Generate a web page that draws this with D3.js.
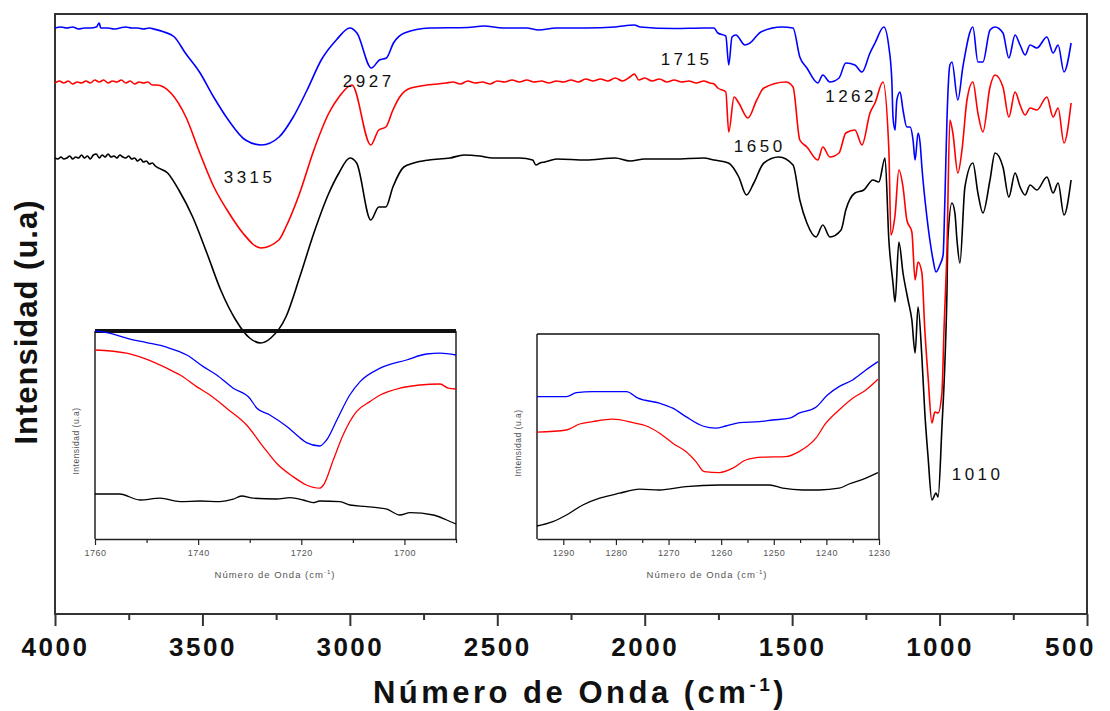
<!DOCTYPE html>
<html>
<head>
<meta charset="utf-8">
<script src="https://cdn.jsdelivr.net/npm/d3@7"></script>
<style>
  body { margin: 0; background: #fff; }
  svg { display: block; }
</style>
</head>
<body>
<svg id="chart" width="1110" height="711"></svg>
<script>
// FTIR spectra: [wavenumber (cm-1), intensity (a.u.)]
const blueMain = [
  [4000,58.6],[3980,58.7],[3960,58.6],[3940,58.7],[3920,58.5],[3900,58.6],[3880,58.6],[3860,58.7],[3850,59.1],[3845,58.6],
  [3820,58.6],[3800,58.5],[3780,58.6],[3760,58.7],[3740,58.6],[3720,58.6],[3700,58.5],[3680,58.6],[3665,58.5],
  [3630,58.2],[3595,57.7],[3558,56.1],[3510,54.2],[3462,51.7],[3412,49.4],[3354,47.4],[3300,46.9],[3240,47.7],[3192,49.7],[3145,52.4],
  [3097,55.4],[3046,57.4],[3000,58.6],[2976,58.1],[2927,54.6],[2900,55.4],[2876,55.6],[2852,57.1],[2815,58.1],[2730,58.6],
  [2600,58.65],[2545,58.8],[2480,58.6],[2400,58.6],[2360,58.4],[2300,58.6],[2200,58.6],[2100,58.7],[2035,58.9],[2015,58.7],
  [1900,58.55],[1800,58.6],[1765,58.6],
  [1752,58.1],[1725,57.8],[1715,54.9],[1704,57.7],[1691,57.9],[1660,56.9],[1643,57.1],[1606,58.2],[1535,58.7],[1497,58.6],
  [1474,55.7],[1450,54.6],[1413,53.1],[1396,53.9],[1372,53.2],[1341,53.6],[1318,55.1],[1287,54.9],[1263,54.2],[1236,56.1],
  [1219,57.1],[1189,58.7],[1172,56.7],[1162,53.4],[1158,49.7],[1151,48.4],[1145,51.4],[1134,52.2],[1124,50.4],[1111,48.7],
  [1100,48.7],[1090,47.4],[1083,45.4],[1073,48.1],[1066,47.1],[1060,44.7],[1043,39.7],[1033,37.4],[1022,35.4],[1012,34.2],
  [999,34.9],[988,35.9],[982,41.4],[975,49.4],[965,54.9],[958,55.2],[938,51.4],[921,54.7],[887,58.7],[870,55.2],[853,55.2],
  [829,58.4],[812,58.7],[785,58.1],[765,55.6],[744,57.9],[727,56.9],[710,55.9],[693,56.9],[670,56.6],[636,57.7],[615,56.1],
  [598,56.9],[578,54.2],[554,57.1]
];

const redMain = [
  [4000,53.1],[3985,53.3],[3970,53.1],[3955,53.3],[3940,53.0],[3925,53.2],[3910,53.1],[3895,53.3],[3880,53.1],[3865,53.4],
  [3850,53.2],[3835,53.4],[3820,53.1],[3805,53.3],[3790,53.2],[3775,53.4],[3760,53.1],[3745,53.3],[3730,53.0],[3715,53.2],
  [3700,53.1],[3685,53.2],[3670,52.9],[3655,52.9],
  [3607,52.1],[3556,49.7],[3509,46.1],[3461,42.7],[3410,40.1],[3363,38.1],[3302,36.6],[3241,37.4],[3217,38.7],[3170,42.1],
  [3122,46.4],[3071,50.1],[3037,51.7],[2993,52.9],[2929,46.9],[2902,48.4],[2878,48.7],[2854,50.4],[2831,51.7],[2793,52.6],
  [2674,53.1],[2650,53.2],[2625,53.0],[2600,53.3],[2575,53.1],[2550,53.2],[2525,53.0],[2500,53.3],[2475,53.2],[2450,53.4],
  [2425,53.2],[2400,53.4],[2375,53.2],[2350,53.3],[2325,53.1],[2300,53.3],[2275,53.2],[2250,53.4],[2225,53.2],[2200,53.5],
  [2175,53.3],[2150,53.5],[2125,53.3],[2100,53.6],[2075,53.3],[2050,53.7],[2035,54.0],[2020,53.4],[2000,53.6],[1975,53.3],
  [1950,53.5],[1925,53.2],[1900,53.4],[1875,53.2],[1850,53.3],[1825,53.1],[1800,53.3],[1780,53.1],[1765,53.0],
  [1752,52.6],[1725,52.2],[1715,48.2],[1697,51.7],[1681,51.1],[1650,49.6],[1620,51.4],[1596,52.6],[1521,53.2],[1497,52.7],
  [1474,47.4],[1450,46.7],[1413,45.4],[1396,46.7],[1372,45.7],[1341,46.1],[1318,48.1],[1287,48.4],[1263,46.9],[1236,50.1],
  [1219,51.1],[1192,53.2],[1172,46.4],[1165,37.9],[1151,39.9],[1138,44.4],[1124,42.7],[1111,39.4],[1094,38.2],[1083,33.4],
  [1073,35.2],[1060,34.1],[1050,28.4],[1039,23.7],[1026,19.1],[1016,20.2],[1005,20.1],[992,22.1],[985,28.4],[975,36.4],
  [965,49.4],[955,48.1],[938,44.1],[924,46.4],[907,51.4],[887,53.2],[870,50.1],[853,48.2],[829,52.7],[812,53.9],[785,52.7],
  [765,49.7],[744,52.2],[727,50.9],[710,49.9],[693,50.6],[670,50.4],[636,51.7],[615,49.7],[598,50.6],[578,47.1],[554,51.1]
];

const blackMain = [
  [4000,45.6],[3990,45.5],[3980,45.7],[3970,45.5],[3960,45.6],[3950,45.8],[3940,45.5],[3930,45.7],[3920,45.6],[3910,45.9],
  [3900,45.6],[3890,45.8],[3880,45.5],[3870,45.9],[3860,46.0],[3850,45.6],[3840,45.9],[3830,45.7],[3820,46.0],[3810,45.7],
  [3800,45.8],[3790,45.6],[3780,45.9],[3770,45.7],[3760,45.6],[3750,45.8],[3740,45.5],[3730,45.6],[3720,45.3],[3710,45.5],
  [3700,45.2],[3690,45.3],[3680,45.0],[3670,45.1],[3660,44.8],
  [3618,44.1],[3580,42.4],[3533,39.7],[3485,36.1],[3438,32.4],[3387,29.4],[3340,27.6],[3302,27.1],[3268,27.6],[3217,29.7],
  [3170,33.7],[3122,38.1],[3071,42.1],[3037,44.1],[3000,45.6],[2977,45.1],[2929,39.4],[2902,40.7],[2878,40.7],[2854,42.7],
  [2817,44.7],[2783,45.1],[2732,45.4],[2660,45.6],[2613,45.9],[2560,45.8],[2515,45.6],[2424,45.6],[2380,45.4],[2369,44.9],
  [2355,45.1],[2339,45.2],[2298,45.5],[2200,45.4],[2100,45.6],[2050,45.3],[2000,45.5],[1900,45.5],[1800,45.6],[1765,45.4],
  [1716,45.1],[1681,43.7],[1655,41.9],[1630,43.1],[1596,45.1],[1545,45.7],[1497,44.9],[1474,41.4],[1450,39.1],[1419,37.7],
  [1396,38.9],[1372,37.7],[1334,38.4],[1318,40.4],[1287,42.1],[1257,42.4],[1226,43.4],[1206,43.2],[1185,45.6],[1172,37.4],
  [1158,33.1],[1151,31.2],[1138,37.2],[1124,34.1],[1107,31.4],[1094,29.4],[1083,26.1],[1073,30.7],[1060,25.7],[1050,20.1],
  [1039,15.7],[1026,11.4],[1012,12.1],[1005,11.7],[992,18.7],[982,25.1],[975,32.1],[972,37.4],[958,41.1],[948,40.1],
  [941,37.4],[931,35.1],[914,42.7],[887,45.1],[870,42.1],[853,40.1],[829,43.4],[812,46.1],[785,44.7],[765,41.7],[744,44.1],
  [727,42.7],[710,41.9],[693,42.9],[670,42.4],[636,43.7],[615,42.1],[598,43.1],[578,39.9],[554,43.4]
];

// Zoomed region around the C=O band
const blueInsetCO = [
  [1760,104],[1757.7,103.2],[1753.2,99.9],[1750,98.2],[1746.1,95.9],[1742.2,92],[1739,86.2],[1736.4,82],[1733.2,75.4],
  [1730,70.4],[1728.6,65.4],[1726.1,62],[1722.8,56.2],[1720.9,52],[1719,48.2],[1716.4,46.5],[1715.1,49.5],[1713.1,59.5],
  [1710.6,72],[1708.6,78.7],[1704.7,85.4],[1699.6,89.5],[1695.7,92.5],[1693.1,92.9],[1690,92]
];
const redInsetCO = [
  [1760,94.5],[1753.9,92.9],[1750.6,90.4],[1746.1,85.4],[1743.5,82],[1740.3,76.2],[1737.7,72],[1734.5,65.4],[1730.6,57],
  [1727.4,46.2],[1724.8,37.9],[1721.6,31.2],[1719,27],[1716.4,25.4],[1715.7,27],[1713.8,39.5],[1711.9,52],[1709.3,63.7],
  [1706.7,68.7],[1704.7,72],[1700.9,75.4],[1697,77],[1693.1,77.5],[1691.5,75.4],[1690,75]
];
const blackInsetCO = [
  [1760,22.5],[1755.2,22.5],[1751.3,19.5],[1747.4,20.4],[1743.5,18.7],[1739.6,19],[1735.8,18.7],[1733.2,19.9],[1731.6,21.5],
  [1729.3,20.4],[1724.8,20],[1722.2,20.7],[1719.6,19.5],[1717.7,18.2],[1716.4,19],[1712.5,18.7],[1710.6,17],[1707.3,16.2],
  [1703.4,14.9],[1700.9,12],[1698.9,13.2],[1694.4,12],[1691.8,9.5],[1690,7.5]
];

// Zoomed region around 1262 cm-1
const blueInsetSi = [
  [1295,71.2],[1289.4,71.2],[1287.5,73.2],[1284.4,73.7],[1278,73.7],[1275.8,70.4],[1271.7,67.9],[1269.2,65.4],[1266.7,61.2],
  [1263.5,56.5],[1261,55.4],[1259.1,56.5],[1256.5,58.2],[1252.7,58.7],[1250.2,59.5],[1247,60.4],[1245.2,62.9],[1242,65.9],
  [1239.8,72],[1237.6,76.2],[1235,79.5],[1232.5,84.5],[1230.2,88.7]
];
const redInsetSi = [
  [1295,53.4],[1289.4,54.5],[1286.9,57.5],[1284.4,58.7],[1280.6,59.9],[1276.8,58.2],[1274.2,56.5],[1271.7,52.9],[1269.2,47.9],
  [1266.7,43.7],[1264.8,38.7],[1263.2,33.7],[1260.3,33.2],[1257.8,35.4],[1255.3,39.5],[1252.1,40.9],[1247.7,41.2],[1245.2,43.7],
  [1242,50.4],[1240.1,57.9],[1237.6,64.5],[1235,70.4],[1232.5,74.5],[1230.2,79.9]
];
const blackInsetSi = [
  [1295,6.5],[1292,8.7],[1289.4,12],[1286.3,17],[1283.1,20.4],[1279.3,22.9],[1275.5,24.9],[1271.7,24.5],[1266.7,26.2],
  [1260.3,27],[1250.8,27],[1248.3,25.4],[1244.5,24.5],[1241.4,24.5],[1237.6,25.4],[1235.7,27.5],[1232.5,30.4],[1230.2,33.2]
];

const mainMajorTicks = [4000, 3500, 3000, 2500, 2000, 1500, 1000, 500];
const mainMinorTicks = [3750, 3250, 2750, 2250, 1750, 1250, 750];
const insetCOMajor = [1760, 1740, 1720, 1700];
const insetCOMinor = [1750, 1730, 1710, 1690];
const insetSiMajor = [1290, 1280, 1270, 1260, 1250, 1240, 1230];
const insetSiMinor = [1285, 1275, 1265, 1255, 1245, 1235];

// Band assignments written on the main plot: [label, wavenumber of label centre, intensity of baseline]
const bandLabels = [
  ["3315", 3340, 43.1],
  ["2927", 2936, 52.7],
  ["1715", 1858, 54.9],
  ["1262", 1300, 51.2],
  ["1650", 1610, 46.2],
  ["1010", 871, 13.4]
];

const FONT = "'Liberation Sans', Arial, Helvetica, sans-serif";
const svg = d3.select("#chart");

const x = d3.scaleLinear().domain([4000, 500]).range([55, 1087]);
const y = d3.scaleLinear().domain([0, 60]).range([614, 14]);

// Plot frame
svg.append("rect")
  .attr("x", x.range()[0]).attr("y", y.range()[1])
  .attr("width", x.range()[1] - x.range()[0])
  .attr("height", y.range()[0] - y.range()[1])
  .attr("fill", "none").attr("stroke", "#333").attr("stroke-width", 2);

// Bottom axis: labelled major ticks and short minor ticks
const gMajor = svg.append("g").attr("transform", `translate(0,${y.range()[0]})`)
  .call(d3.axisBottom(x).tickValues(mainMajorTicks).tickSize(12).tickFormat(d3.format("d")));
gMajor.select(".domain").remove();
gMajor.selectAll(".tick line").attr("stroke", "#333").attr("stroke-width", 2);
gMajor.selectAll(".tick text")
  .attr("y", 24).attr("fill", "#111")
  .attr("x", d => d === 500 ? -17 : 0)
  .style("font-family", FONT).style("font-size", "26px").style("font-weight", "bold")
  .style("letter-spacing", "2.5px");

const gMinor = svg.append("g").attr("transform", `translate(0,${y.range()[0]})`)
  .call(d3.axisBottom(x).tickValues(mainMinorTicks).tickSize(6).tickFormat(""));
gMinor.select(".domain").remove();
gMinor.selectAll(".tick line").attr("stroke", "#333").attr("stroke-width", 2);

// Axis titles
svg.append("text")
  .attr("transform", "translate(37,322) rotate(-90)")
  .attr("text-anchor", "middle")
  .style("font-family", FONT).style("font-size", "31px").style("font-weight", "bold")
  .style("letter-spacing", "1px")
  .attr("fill", "#111")
  .text("Intensidad (u.a)");

const xt = svg.append("text")
  .attr("x", 580).attr("y", 703)
  .attr("text-anchor", "middle")
  .style("font-family", FONT).style("font-size", "31px").style("font-weight", "bold")
  .style("letter-spacing", "3.5px")
  .attr("fill", "#111");
xt.append("tspan").text("Número de Onda (cm");
xt.append("tspan").attr("dy", -12).style("font-size", "19px").text("-1");
xt.append("tspan").attr("dy", 12).text(")");

// Spectra
const mainLine = d3.line().x(d => x(d[0])).y(d => y(d[1])).curve(d3.curveMonotoneX);
[[blackMain, "#000000"], [redMain, "#ff0000"], [blueMain, "#0000ff"]].forEach(([data, color]) => {
  svg.append("path").datum(data)
    .attr("d", mainLine)
    .attr("fill", "none").attr("stroke", color)
    .attr("stroke-width", 1.6).attr("stroke-linejoin", "round");
});

// Band labels
svg.selectAll("text.band").data(bandLabels).enter().append("text")
  .attr("class", "band")
  .attr("x", d => x(d[1])).attr("y", d => y(d[2]))
  .attr("text-anchor", "middle")
  .style("font-family", FONT).style("font-size", "17px")
  .style("letter-spacing", "3.5px")
  .attr("fill", "#111")
  .text(d => d[0]);

// Inset panels
function drawInset(cfg) {
  const g = svg.append("g");
  const ix = d3.scaleLinear().domain(cfg.xDomain).range(cfg.xRange);
  const iy = d3.scaleLinear().domain(cfg.yDomain).range(cfg.yRange);
  const [x0, x1] = cfg.xRange;
  const [yb, yt] = cfg.yRange;

  g.append("line").attr("x1", x0).attr("x2", x0).attr("y1", yt).attr("y2", yb)
    .attr("stroke", "#222").attr("stroke-width", 1.5);
  g.append("line").attr("x1", x1).attr("x2", x1).attr("y1", yt).attr("y2", yb)
    .attr("stroke", "#222").attr("stroke-width", 1.5);
  g.append("line").attr("x1", x0).attr("x2", x1).attr("y1", yt).attr("y2", yt)
    .attr("stroke", "#111").attr("stroke-width", cfg.topWidth);

  const ax = g.append("g").attr("transform", `translate(0,${yb})`)
    .call(d3.axisBottom(ix).tickValues(cfg.major).tickSize(6).tickSizeOuter(0).tickFormat(d3.format("d")));
  ax.select(".domain").attr("stroke", "#222").attr("stroke-width", 1.5);
  ax.selectAll(".tick line").attr("stroke", "#222").attr("stroke-width", 1.2);
  ax.selectAll(".tick text")
    .attr("y", 11).attr("fill", "#555")
    .style("font-family", FONT).style("font-size", "9px").style("letter-spacing", "0.5px");

  const axm = g.append("g").attr("transform", `translate(0,${yb})`)
    .call(d3.axisBottom(ix).tickValues(cfg.minor).tickSize(4).tickSizeOuter(0).tickFormat(""));
  axm.select(".domain").remove();
  axm.selectAll(".tick line").attr("stroke", "#222").attr("stroke-width", 1.2);

  const xtitle = g.append("text")
    .attr("x", cfg.xTitleX).attr("y", yb + 39)
    .attr("text-anchor", "middle").attr("fill", "#555")
    .style("font-family", FONT).style("font-size", "9.5px").style("letter-spacing", "1px");
  xtitle.append("tspan").text("Número de Onda (cm");
  xtitle.append("tspan").attr("dy", -4).style("font-size", "6px").text("-1");
  xtitle.append("tspan").attr("dy", 4).text(")");

  g.append("text")
    .attr("transform", `translate(${x0 - 16},${cfg.yTitleY}) rotate(-90)`)
    .attr("text-anchor", "middle").attr("fill", "#555")
    .style("font-family", FONT).style("font-size", "8.5px").style("letter-spacing", "0.5px")
    .text("Intensidad (u.a)");

  const il = d3.line().x(d => ix(d[0])).y(d => iy(d[1])).curve(d3.curveMonotoneX);
  cfg.series.forEach(([data, color]) => {
    g.append("path").datum(data).attr("d", il)
      .attr("fill", "none").attr("stroke", color).attr("stroke-width", 1.3);
  });
}

drawInset({
  xDomain: [1760, 1690], xRange: [95, 456],
  yDomain: [0, 104], yRange: [539, 331],
  major: insetCOMajor, minor: insetCOMinor,
  topWidth: 4, xTitleX: 275, yTitleY: 441,
  series: [[blackInsetCO, "#000"], [redInsetCO, "#ff0000"], [blueInsetCO, "#0000ff"]]
});

drawInset({
  xDomain: [1295, 1230], xRange: [537, 879],
  yDomain: [0, 102.5], yRange: [539, 334],
  major: insetSiMajor, minor: insetSiMinor,
  topWidth: 1.5, xTitleX: 707, yTitleY: 443,
  series: [[blackInsetSi, "#000"], [redInsetSi, "#ff0000"], [blueInsetSi, "#0000ff"]]
});
</script>
</body>
</html>
